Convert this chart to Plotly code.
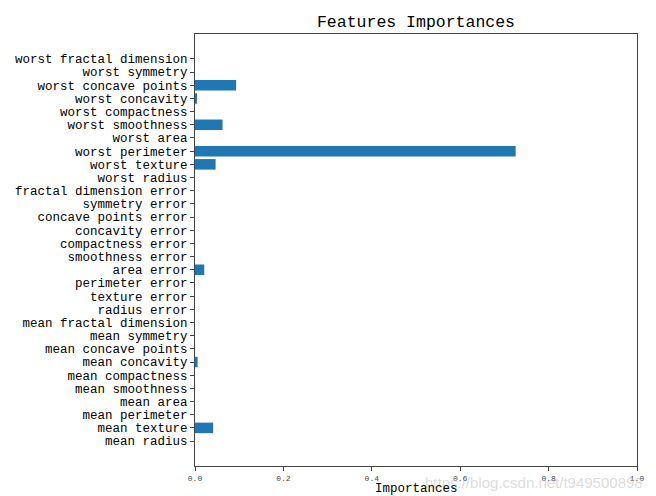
import plotly.graph_objects as go

features = [
    "mean radius", "mean texture", "mean perimeter", "mean area", "mean smoothness",
    "mean compactness", "mean concavity", "mean concave points", "mean symmetry",
    "mean fractal dimension", "radius error", "texture error", "perimeter error",
    "area error", "smoothness error", "compactness error", "concavity error",
    "concave points error", "symmetry error", "fractal dimension error",
    "worst radius", "worst texture", "worst perimeter", "worst area",
    "worst smoothness", "worst compactness", "worst concavity",
    "worst concave points", "worst symmetry", "worst fractal dimension",
]
importances = [
    0.0, 0.041, 0.0, 0.0, 0.0,
    0.0, 0.006, 0.0, 0.0,
    0.0, 0.0, 0.0, 0.0,
    0.021, 0.0, 0.0, 0.0,
    0.0, 0.0, 0.0,
    0.0, 0.0466, 0.7255, 0.0,
    0.0624, 0.0, 0.004,
    0.093, 0.0, 0.0,
]
x_ticks = [0.0, 0.2, 0.4, 0.6, 0.8, 1.0]

MONO = "Liberation Mono, DejaVu Sans Mono, monospace"
positions = list(range(len(features)))

L, R, T, B = 187, 629, 26, 458
W, H = 656, 496

fig = go.Figure(go.Bar(
    x=importances, y=positions, orientation="h",
    marker=dict(color="#1f77b4", line=dict(width=0)),
    width=0.8,
))

fig.update_layout(
    width=W, height=H,
    margin=dict(l=L, r=W - R, t=T, b=H - B, autoexpand=False),
    paper_bgcolor="white", plot_bgcolor="white",
    showlegend=False,
    title=dict(text="Features Importances", xref="paper", x=0.5, xanchor="center",
               yref="container", y=1 - 13.5 / H, yanchor="middle", automargin=False,
               font=dict(family=MONO, size=16.5, color="black")),
    xaxis=dict(
        range=[0, 1], tickvals=x_ticks, ticktext=[f"{v:.1f}" for v in x_ticks],
        showgrid=False, zeroline=False, automargin=False,
        showline=True, linecolor="#444", linewidth=1, mirror=True,
        ticks="outside", ticklen=4, tickcolor="#444",
        tickfont=dict(family=MONO, size=8, color="#444"),
    ),
    yaxis=dict(
        range=[-1.89, 30.89], tickmode="array", tickvals=positions, ticktext=features,
        showgrid=False, zeroline=False, automargin=False,
        showline=True, linecolor="#444", linewidth=1, mirror=True,
        ticks="outside", ticklen=4, tickcolor="#444",
        tickfont=dict(family=MONO, size=12.5, color="black"),
    ),
)

# watermark (faint, as in the reference)
fig.add_annotation(
    text="https://blog.csdn.net/t949500898", xref="paper", yref="paper",
    x=(415 - L) / (R - L), y=-(474 - B) / (B - T), xanchor="left", yanchor="middle",
    showarrow=False, font=dict(family="Liberation Sans, Arial, sans-serif", size=15,
                               color="rgba(190,190,190,0.55)"),
)
# x-axis label
fig.add_annotation(
    text="Importances", xref="paper", yref="paper",
    x=0.5, y=-(481 - B) / (B - T), xanchor="center", yanchor="middle",
    showarrow=False, font=dict(family=MONO, size=12.5, color="black"),
)

fig.write_html("out.html")
